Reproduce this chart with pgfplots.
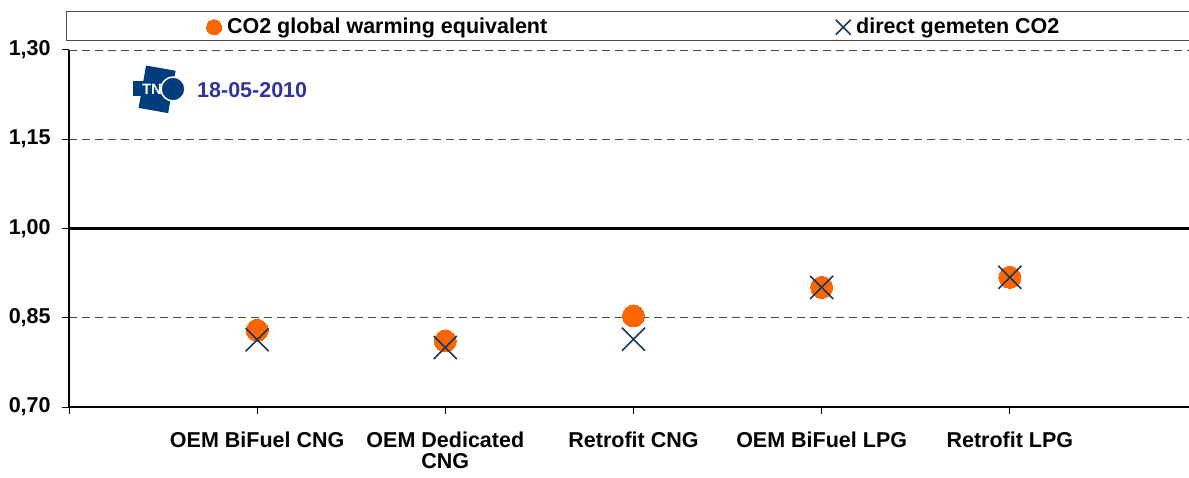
\documentclass[border=0pt]{standalone}
\usepackage{pgfplots}
\pgfplotsset{compat=1.18}
\usepackage{fontspec}
\setmainfont{Liberation Sans}
\definecolor{orng}{RGB}{255,102,0}
\definecolor{xblue}{RGB}{23,55,94}
\definecolor{tno}{RGB}{0,61,124}
\definecolor{datec}{RGB}{51,51,153}
\begin{document}
\begin{tikzpicture}
\fontsize{21.5bp}{22bp}\selectfont\bfseries
\begin{axis}[
 at={(69bp,71bp)}, anchor=south west,
 scale only axis, width=1120bp, height=357bp,
 xmin=-1, xmax=4.952, ymin=0.70, ymax=1.30,
 axis x line*=bottom, axis y line*=left,
 axis line style={line width=1.2bp, -},
 ytick={0.70,0.85,1.00,1.15,1.30},
 yticklabel style={xshift=-4bp, /pgf/number format/.cd, fixed, fixed zerofill, precision=2, use comma},
 /pgf/number format/assume math mode=true,
 ticklabel style={font=\fontsize{21.5bp}{21bp}\selectfont\bfseries},
 xtick={-1,0,1,2,3,4},
 xticklabels={{},{OEM BiFuel CNG},{OEM Dedicated\\CNG},{Retrofit CNG},{OEM BiFuel LPG},{Retrofit LPG}},
 xticklabel style={align=center, yshift=-11bp},
 tick align=outside, major tick length=7bp,
 tick style={black, line width=1bp},
 ymajorgrids,
 grid style={black!70, line width=0.9bp, dash pattern=on 8bp off 5bp},
 clip=false,
 legend columns=2,
 legend style={draw=none, fill=none, at={(0.120,1.064)}, anchor=west,
   font=\fontsize{21.5bp}{22bp}\selectfont\bfseries,
   nodes={inner sep=5.5bp},
   /tikz/every even column/.append style={column sep=283bp}},
 legend image code/.code={\draw[#1] plot coordinates {(0bp,0bp)};},
]
\addplot[forget plot, black, line width=3bp] coordinates {(-1,1.00) (4.952,1.00)};
\addplot[only marks, mark=*, mark size=11bp, orng, mark options={draw=orng, fill=orng, line width=0pt},
  legend image post style={mark size=7.5bp}]
 coordinates {(0,0.829) (1,0.811) (2,0.853) (3,0.901) (4,0.918)};
\addlegendentry{CO2 global warming equivalent}
\addplot[only marks, mark=x, mark size=16.3bp, xblue, mark options={line width=1.6bp, xblue},
  legend image post style={mark size=10.6bp}]
 coordinates {(0,0.813) (1,0.800) (2,0.814) (3,0.901) (4,0.918)};
\addlegendentry{direct gemeten CO2}
\end{axis}
\draw[line width=1bp, black!70] (66bp,437bp) rectangle (1200bp,466bp);
% TNO logo (approximation)
\fill[tno, rotate around={-10:(158bp,388bp)}] (142bp,367bp) rectangle (172bp,410bp);
\fill[tno] (133bp,382bp) rectangle (145bp,397bp);
\filldraw[tno, draw=white, line width=1.5bp] (173bp,389bp) circle (12bp);
\node[white, font=\fontsize{15bp}{15bp}\selectfont\bfseries, inner sep=0pt] at (152bp,389bp) {TN};
\node[anchor=west, text=datec, inner sep=0pt] at (197bp,388bp) {18-05-2010};
\pgfresetboundingbox
\path[use as bounding box] (0,0) rectangle (1189bp,478bp);
\end{tikzpicture}
\end{document}
